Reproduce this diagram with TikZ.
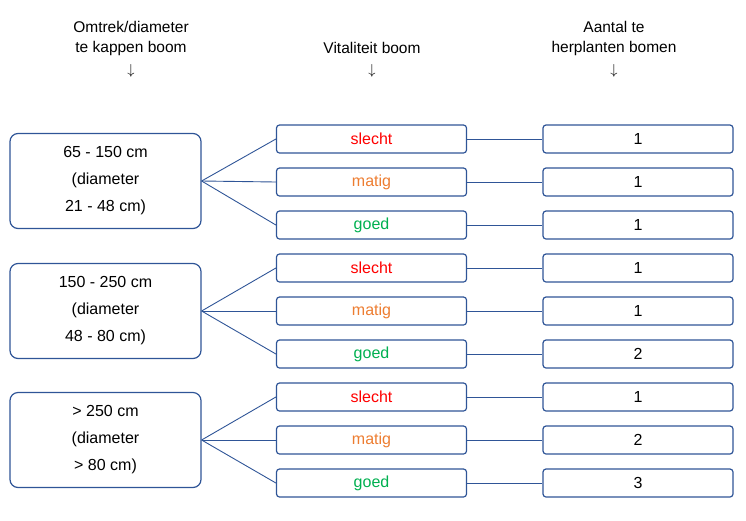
\documentclass[tikz,border=0pt]{standalone}
\usepackage{fontspec}
\setmainfont{Liberation Sans}
\begin{document}
\begin{tikzpicture}[x=1pt,y=-1pt,
  bx/.style={draw=bl,line width=1.2pt,rounded corners=3pt,minimum width=190pt,minimum height=28pt,inner sep=0pt,font=\fontsize{16}{18}\selectfont},
  big/.style={draw=bl,line width=1.2pt,rounded corners=8pt,minimum width=191pt,minimum height=95pt,align=center,font=\fontsize{16}{27}\selectfont},
  hd/.style={align=center,font=\fontsize{15.5}{20}\selectfont},
  ln/.style={draw=bl,line width=0.9pt}]
\definecolor{bl}{HTML}{2F5597}
\definecolor{rd}{HTML}{FF0000}
\definecolor{or}{HTML}{ED7D31}
\definecolor{gr}{HTML}{00B050}
\useasboundingbox (0,0) rectangle (746,520);
\node[hd] (h1) at (131,38) {Omtrek/diameter\\te kappen boom};
\node[hd] (a1) at (131,71) {$\downarrow$};
\node[hd] (h2) at (372,48) {Vitaliteit boom};
\node[hd] (a2) at (372,71) {$\downarrow$};
\node[hd] (h3) at (614,38) {Aantal te\\herplanten bomen};
\node[hd] (a3) at (614,71) {$\downarrow$};
\node[big] (L1) at (105.5,181) {65 - 150 cm\\(diameter\\21 - 48 cm)};
\node[big] (L2) at (105.5,311) {150 - 250 cm\\(diameter\\48 - 80 cm)};
\node[big] (L3) at (105.5,440) {> 250 cm\\(diameter\\> 80 cm)};
\foreach \g/\yy in {1/139,2/268,3/397}{
  \node[bx,text=rd] (m\g a) at (371.5,\yy) {slecht};
  \node[bx,text=or] (m\g b) at (371.5,\yy+43) {matig};
  \node[bx,text=gr] (m\g c) at (371.5,\yy+86) {goed};
}
\foreach \n/\t in {1a/1,1b/1,1c/1,2a/1,2b/1,2c/2,3a/1,3b/2,3c/3}{
  \path (m\n) ++(266.5,0) node[bx] (r\n) {\t};
  \draw[ln] (m\n.east) -- (r\n.west);
}
\foreach \g in {1,2,3}{\foreach \s in {a,b,c}{\draw[ln] (L\g.east) -- (m\g\s.west);}}
\end{tikzpicture}
\end{document}
